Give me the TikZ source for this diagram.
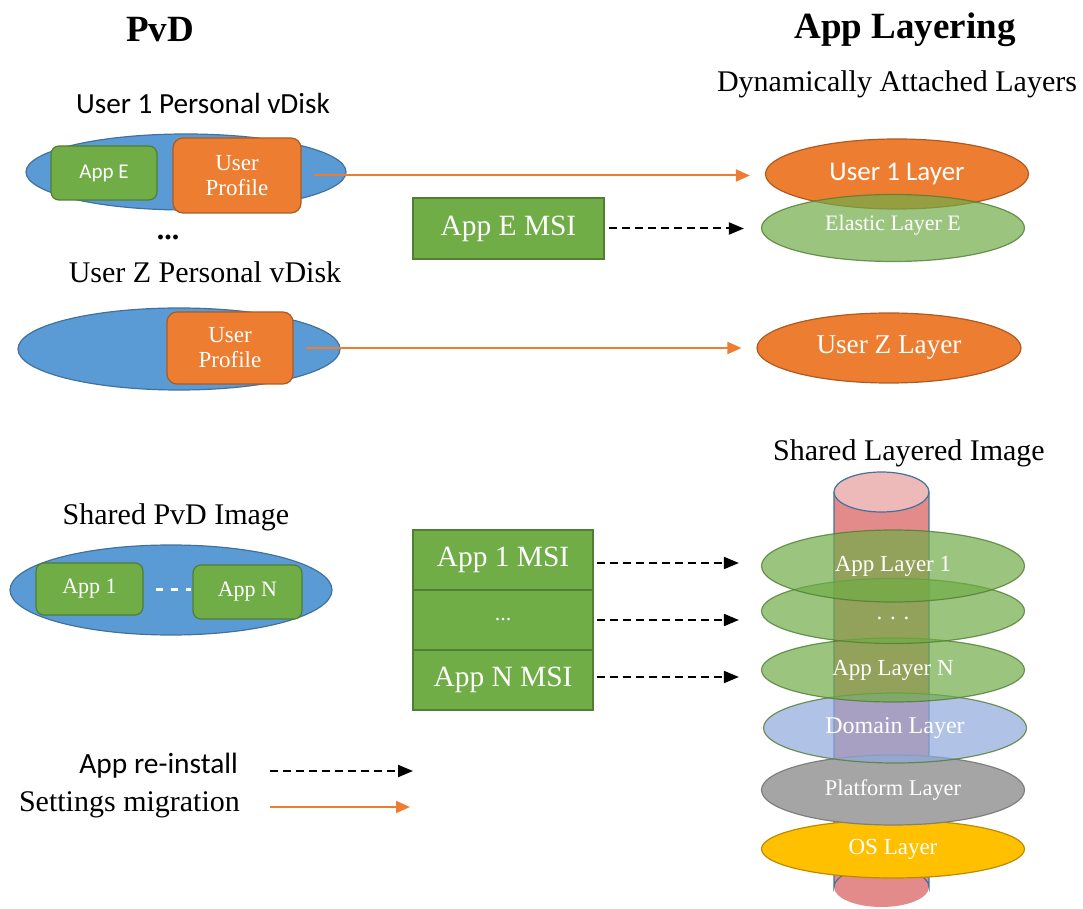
\documentclass[tikz,border=0pt]{standalone}
\usepackage{fontspec}
\setmainfont{Liberation Serif}
\newfontfamily\cali{Carlito}
\usetikzlibrary{positioning, arrows.meta, shapes.geometric, calc}
\definecolor{diskblue}{HTML}{5B9BD5}
\definecolor{diskline}{HTML}{41719C}
\definecolor{appgreen}{HTML}{70AD47}
\definecolor{appline}{HTML}{507E32}
\definecolor{proforange}{HTML}{ED7D31}
\definecolor{profline}{HTML}{AE5A21}
\definecolor{domblue}{HTML}{8FAADC}
\definecolor{platgray}{HTML}{A5A5A5}
\definecolor{platline}{HTML}{7F7F7F}
\definecolor{osgold}{HTML}{FFC000}
\definecolor{osline}{HTML}{BC8C00}
\definecolor{cylbody}{HTML}{E38A8A}
\definecolor{cyltop}{HTML}{EEB9B9}
\tikzset{
  disk/.style={ellipse, draw=diskline, line width=0.6pt, fill=diskblue, inner sep=0pt},
  appbox/.style={rounded corners=4pt, draw=appline, line width=0.6pt, fill=appgreen,
                 text=white, inner sep=0pt, font=\fontsize{11}{12}\selectfont},
  profbox/.style={rounded corners=5pt, draw=profline, line width=0.6pt, fill=proforange,
                  text=white, inner sep=0pt, align=center, font=\fontsize{11.5}{12.5}\selectfont},
  msibox/.style={draw=appline, line width=0.8pt, fill=appgreen, text=white, inner sep=0pt,
                 minimum width=90pt, minimum height=30pt, font=\fontsize{14.7}{16}\selectfont},
  layer/.style={ellipse, inner sep=0pt, line width=0.6pt, text=white, minimum width=131.5pt,
                font=\fontsize{11.5}{12.5}\selectfont},
  glayer/.style={layer, fill=appgreen, fill opacity=0.7, text opacity=1, draw=appline, draw opacity=0.8},
  olayer/.style={layer, fill=proforange, draw=profline},
  head/.style={font=\bfseries\fontsize{18.5}{20}\selectfont},
  lbl/.style={font=\fontsize{15}{17}\selectfont},
  migr/.style={-{Triangle[length=7pt,width=6pt]}, draw=proforange, line width=1pt},
  reinst/.style={-{Triangle[length=7.5pt,width=6pt]}, line width=1pt, dash pattern=on 4pt off 2.5pt},
}
\begin{document}
\begin{tikzpicture}[x=0.5pt, y=-0.5pt]
  \useasboundingbox (0,0) rectangle (1083,909);
  % headings
  \node[head] (pvdT) at (160,30) {PvD};
  \node[head] (alT) at (905,30) {App Layering};
  \node[lbl] (dynT) at (897,84) {Dynamically Attached Layers};
  % user disks on the left
  \node[lbl, font=\cali\fontsize{14.6}{16}\selectfont] (u1T) at (203,103) {User 1 Personal vDisk};
  \node[disk, minimum width=160pt, minimum height=38pt] (disk1) at (186,172) {};
  \node[appbox, font=\cali\fontsize{10.5}{12}\selectfont, minimum width=53pt, minimum height=27pt] (appE) at (104,173) {App E};
  \node[profbox, minimum width=64pt, minimum height=37.5pt] (prof1) at (237,175.5) {User\\Profile};
  \node[head, font=\bfseries\fontsize{15}{17}\selectfont] (dots1) at (168,237) {...};
  \node[lbl] (uZT) at (205,272) {User Z Personal vDisk};
  \node[disk, minimum width=161pt, minimum height=41pt] (diskZ) at (179,349) {};
  \node[profbox, minimum width=63pt, minimum height=36pt] (profZ) at (230,348) {User\\Profile};
  % dynamically attached layers
  \node[olayer, minimum height=35pt, font=\cali\fontsize{13.5}{15}\selectfont] (lay1) at (897,174) {User 1 Layer};
  \node[glayer, minimum height=33.5pt, font=\fontsize{11}{12}\selectfont] (layE) at (893,228) {\raisebox{5pt}{Elastic Layer E}};
  \node[olayer, minimum height=35pt, minimum width=132pt, font=\fontsize{13.6}{15}\selectfont] (layZ) at (889,348) {User Z Layer};
  \node[msibox, minimum width=95.5pt, minimum height=30.5pt] (msiE) at (508.5,228.5) {App E MSI};
  % shared images
  \node[lbl] (spT) at (176,517) {Shared PvD Image};
  \node[disk, minimum width=161pt, minimum height=45pt] (disk3) at (171,590) {};
  \node[appbox, minimum width=53.5pt, minimum height=26pt] (app1) at (89.5,589) {App 1};
  \node[appbox, minimum width=54.5pt, minimum height=27pt] (appN) at (247.5,592) {App N};
  \draw[white, line width=1.5pt, dash pattern=on 3.5pt off 4pt, shorten <=6pt, shorten >=0.5pt] (app1.east) -- (appN.west |- app1.east);
  \node[msibox] (msi1) at (503,560) {App 1 MSI};
  \node[msibox, font=\fontsize{11}{12}\selectfont] (msiD) at (503,620) {...};
  \node[msibox] (msiN) at (503,680) {App N MSI};
  \node[lbl] (shT) at (909,453) {Shared Layered Image};
  % cylinder behind the layer stack
  \fill[cylbody] (834,492) rectangle (929,887);
  \fill[cylbody] (881.5,887) ellipse [x radius=47.5, y radius=20];
  \draw[diskline, line width=0.6pt] (834,492) -- (834,887) arc[start angle=180, end angle=360, x radius=47.5, y radius=20] -- (929,492);
  \filldraw[fill=cyltop, draw=diskline, line width=0.6pt] (881.5,492) ellipse [x radius=47.5, y radius=20];
  \node[layer, fill=osgold, draw=osline, minimum height=29pt] (os) at (893,849) {OS Layer};
  \node[layer, fill=platgray, draw=platline, minimum height=35pt, font=\fontsize{11.2}{12}\selectfont] (plat) at (893,790) {Platform Layer};
  \node[glayer, fill=domblue, minimum height=35pt, font=\fontsize{12}{13}\selectfont] (dom) at (895,728) {Domain Layer};
  \node[glayer, minimum height=32pt] (laN) at (893,670) {App Layer N};
  \node[glayer, minimum height=32.5pt] (lad) at (893,611) {\raisebox{-9pt}{. . .}};
  \node[glayer, minimum height=36pt] (la1) at (893,566) {App Layer 1};
  % connectors
  \draw[migr, shorten <=6pt, shorten >=7.5pt] (prof1.east) -- (prof1.east -| lay1.west);
  \draw[migr, shorten <=6pt, shorten >=7.5pt] (profZ.east) -- (profZ.east -| layZ.west);
  \draw[reinst, shorten <=2pt, shorten >=8.5pt] (msiE.east) -- (msiE.east -| layE.west);
  \draw[reinst, shorten <=1.5pt, shorten >=11pt] ([yshift=-1.5pt]msi1.east) -- ([yshift=-1.5pt]msi1.east -| la1.west);
  \draw[reinst, shorten <=1.5pt, shorten >=11pt] (msiD.east) -- (msiD.east -| lad.west);
  \draw[reinst, shorten <=1.5pt, shorten >=11pt] ([yshift=1.5pt]msiN.east) -- ([yshift=1.5pt]msiN.east -| laN.west);
  % legend
  \node[lbl, font=\cali\fontsize{14.7}{16}\selectfont, anchor=east] (lgRe) at (245,766) {App re-install};
  \node[lbl, anchor=west] (lgMi) at (12,805) {Settings migration};
  \coordinate (lgReA) at (270,771);
  \coordinate (lgReB) at (413,771);
  \coordinate (lgMiA) at (270,807);
  \coordinate (lgMiB) at (410,807);
  \draw[reinst] (lgReA) -- (lgReB);
  \draw[migr] (lgMiA) -- (lgMiB);
\end{tikzpicture}
\end{document}
